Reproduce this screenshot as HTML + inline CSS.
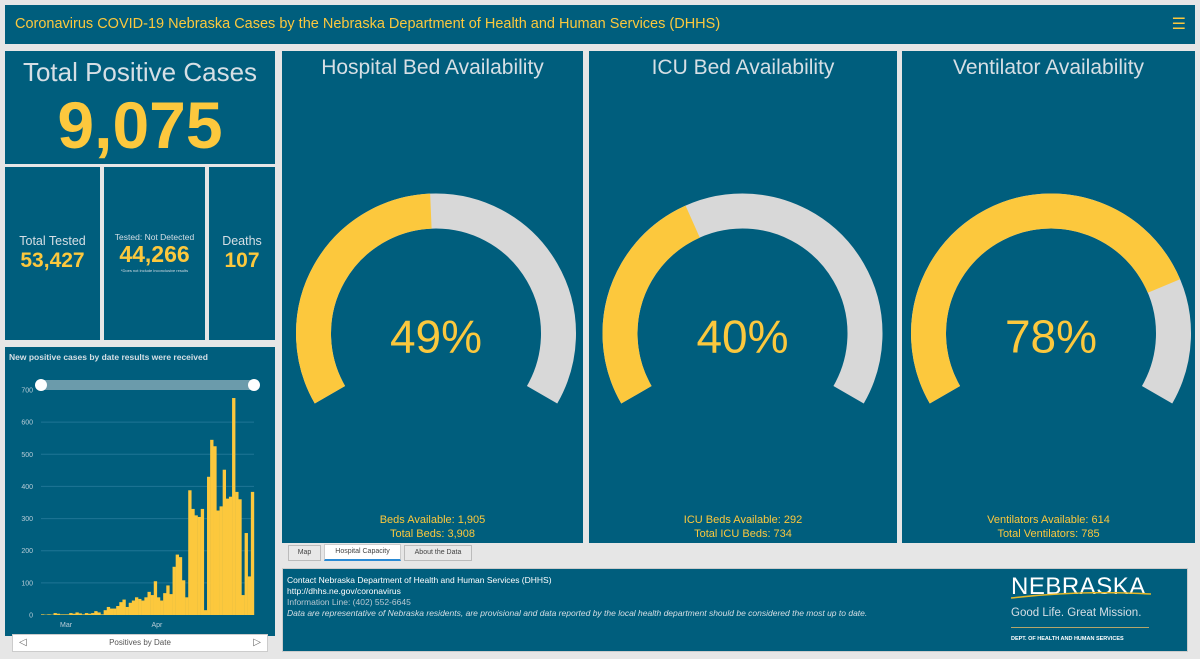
<!DOCTYPE html>
<html><head><meta charset="utf-8">
<style>
*{box-sizing:border-box;margin:0;padding:0}
body{width:1200px;height:659px;background:#e6e6e6;font-family:"Liberation Sans",sans-serif;position:relative;overflow:hidden}
.p{position:absolute;background:#005e7d}
.c{text-align:center;position:absolute;left:0;right:0}
.y{color:#fcc83d}
.g{color:#d6dfe5}
</style></head><body>
<div class="p" style="left:5px;top:5px;width:1190px;height:39px">
  <div class="y" style="position:absolute;left:10px;top:11px;font-size:14.5px">Coronavirus COVID-19 Nebraska Cases by the Nebraska Department of Health and Human Services (DHHS)</div>
  <div class="y" style="position:absolute;right:9px;top:9px;font-size:16px">☰</div>
</div>

<div class="p" style="left:5px;top:51px;width:270px;height:113px">
  <div class="c g" style="top:6px;font-size:26px">Total Positive Cases</div>
  <div class="c y" style="top:36px;font-size:66px;font-weight:bold">9,075</div>
</div>
<div class="p" style="left:5px;top:167px;width:95px;height:173px">
  <div class="c g" style="top:67px;font-size:12.5px">Total Tested</div>
  <div class="c y" style="top:82px;font-size:21px;font-weight:bold">53,427</div>
</div>
<div class="p" style="left:104px;top:167px;width:101px;height:173px">
  <div class="c g" style="top:65px;font-size:8.5px">Tested: Not Detected</div>
  <div class="c y" style="top:74px;font-size:23px;font-weight:bold">44,266</div>
  <div class="c g" style="top:101px;font-size:4px">*Does not include inconclusive results</div>
</div>
<div class="p" style="left:209px;top:167px;width:66px;height:173px">
  <div class="c g" style="top:67px;font-size:12.5px">Deaths</div>
  <div class="c y" style="top:82px;font-size:21px;font-weight:bold">107</div>
</div>

<div class="p" style="left:5px;top:347px;width:270px;height:289px">
  <div class="g" style="position:absolute;left:4px;top:5px;font-size:8.5px;font-weight:bold">New positive cases by date results were received</div>
</div>
<svg id="chart" width="280" height="659" style="position:absolute;left:0;top:0"></svg>
<div style="position:absolute;left:12px;top:634px;width:256px;height:18px;background:#fff;border:1px solid #ccc">
  <div style="position:absolute;left:6px;top:2px;font-size:10px;color:#666">◁</div>
  <div class="c" style="top:3px;font-size:8px;color:#555">Positives by Date</div>
  <div style="position:absolute;right:6px;top:2px;font-size:10px;color:#666">▷</div>
</div>

<div class="p" style="left:282px;top:51px;width:301px;height:492px">
  <div class="c g" style="top:5px;font-size:21px">Hospital Bed Availability</div>
  <div class="c y" style="top:462px;font-size:11px;line-height:14px">Beds Available: 1,905<br>Total Beds: 3,908</div>
</div>
<div class="p" style="left:589px;top:51px;width:308px;height:492px">
  <div class="c g" style="top:5px;font-size:21px">ICU Bed Availability</div>
  <div class="c y" style="top:462px;font-size:11px;line-height:14px">ICU Beds Available: 292<br>Total ICU Beds: 734</div>
</div>
<div class="p" style="left:902px;top:51px;width:293px;height:492px">
  <div class="c g" style="top:5px;font-size:21px">Ventilator Availability</div>
  <div class="c y" style="top:462px;font-size:11px;line-height:14px">Ventilators Available: 614<br>Total Ventilators: 785</div>
</div>
<svg id="gauges" width="1200" height="659" style="position:absolute;left:0;top:0"></svg>

<div style="position:absolute;left:288px;top:545px;width:33px;height:16px;background:#e8e8e8;border:1px solid #bbb;font-size:7px;color:#444;text-align:center;line-height:14px">Map</div>
<div style="position:absolute;left:324px;top:544px;width:77px;height:17px;background:#fff;border:1px solid #ccc;border-bottom:2px solid #2a8ad4;font-size:7px;color:#444;text-align:center;line-height:14px">Hospital Capacity</div>
<div style="position:absolute;left:404px;top:545px;width:68px;height:16px;background:#e8e8e8;border:1px solid #bbb;font-size:7px;color:#444;text-align:center;line-height:14px">About the Data</div>

<div class="p" style="left:282px;top:568px;width:906px;height:84px;border:1px solid #ccc">
  <div style="position:absolute;left:4px;top:6px;font-size:8.5px;line-height:11px;color:#fff">Contact Nebraska Department of Health and Human Services (DHHS)<br>http://dhhs.ne.gov/coronavirus<br><span style="color:#b8c8d2">Information Line: (402) 552-6645</span><br><i style="color:#d6dfe5">Data are representative of Nebraska residents, are provisional and data reported by the local health department should be considered the most up to date.</i></div>
  <div style="position:absolute;left:728px;top:4px;width:150px;color:#fff">
    <div style="font-size:24px;letter-spacing:0.5px">NEBRASKA</div>
    <svg width="150" height="8" style="position:absolute;left:0;top:19px"><path d="M0 6 Q70 -2 140 2" stroke="#e7b826" stroke-width="1.5" fill="none"/></svg>
    <div style="font-size:11.5px;margin-top:6px;color:#d6dfe5">Good Life. Great Mission.</div>
    <div style="width:138px;height:1px;background:#b5a66a;margin-top:8px"></div>
    <div style="font-size:5.5px;font-weight:bold;margin-top:8px">DEPT. OF HEALTH AND HUMAN SERVICES</div>
  </div>
</div>

<script>
const cases=[2,1,2,1,6,4,2,2,2,6,4,8,5,2,6,4,6,12,8,2,15,25,20,20,28,40,48,25,38,45,55,50,45,55,72,62,105,55,45,68,92,65,150,188,180,108,55,388,330,310,305,330,15,430,545,525,325,338,452,362,368,675,383,360,62,255,120,383];
const yTicks=[0,100,200,300,400,500,600,700];
const xLabels=["Mar","Apr"];
const xLabelIdx=[8,37];
const gaugePct=[49,40,78];
const gaugeLabels=["49%","40%","78%"];
const NS="http://www.w3.org/2000/svg";
function mk(t,a,p){const e=document.createElementNS(NS,t);for(const k in a)e.setAttribute(k,a[k]);p.appendChild(e);return e;}
const svg=document.getElementById('chart');
const x0=41,x1=254,y0=615,yTop=390;
const ys=v=>y0-(v/700)*(y0-yTop);
const bw=(x1-x0)/cases.length;
const xs=i=>x0+i*bw;
yTicks.forEach(t=>{
  if(t>0&&t<700){const l=mk('line',{x1:x0,x2:x1,y1:ys(t),y2:ys(t),stroke:'#1f7595','stroke-width':1},svg);
  
  }
  const tx=mk('text',{x:33,y:ys(t)+2.5,'text-anchor':'end','font-size':7,fill:'#b9cdd8','font-family':'Liberation Sans'},svg);
  tx.textContent=t;
  
  
});
const sl=mk('rect',{x:x0,y:yTop-10,width:x1-x0,height:10,fill:'#6b9bab'},svg);


[x0,x1].forEach(cx=>{const h=mk('circle',{cx:cx,cy:yTop-5,r:6,fill:'#fff'},svg);

});
cases.forEach((v,i)=>{
  const r=mk('rect',{x:xs(i),y:ys(v),width:bw+0.2,height:y0-ys(v),fill:'#fcc83d'},svg);
  
  
});
xLabels.forEach((s,j)=>{
  const t=mk('text',{x:xs(xLabelIdx[j]),y:627,'text-anchor':'middle','font-size':7,fill:'#b9cdd8','font-family':'Liberation Sans'},svg);
  t.textContent=s;
  
  
});
const gs=document.getElementById('gauges');
const cxs=[436,742.5,1051],cy=333.5,R=122.5,W=35;
function pt(a){return a*Math.PI/180;}
function arc(cx,a1,a2,col){
  const p=(a)=>[cx+R*Math.sin(pt(a)),cy-R*Math.cos(pt(a))];
  const [sx,sy]=p(a1),[ex,ey]=p(a2);
  const large=(a2-a1)>180?1:0;
  return mk('path',{d:`M${sx} ${sy} A${R} ${R} 0 ${large} 1 ${ex} ${ey}`,stroke:col,'stroke-width':W,fill:'none'},gs);
}
gaugePct.forEach((v,i)=>{
  const bg=arc(cxs[i],-120,120,'#d8d8d8');
  
  
  const f=arc(cxs[i],-120,-120+240*v/100,'#fcc83d');
  
  
  const t=mk('text',{x:cxs[i],y:cy+19,'text-anchor':'middle','font-size':46,fill:'#fcc83d','font-family':'Liberation Sans'},gs);
  t.textContent=gaugeLabels[i];
  
  
});
</script>
</body></html>
